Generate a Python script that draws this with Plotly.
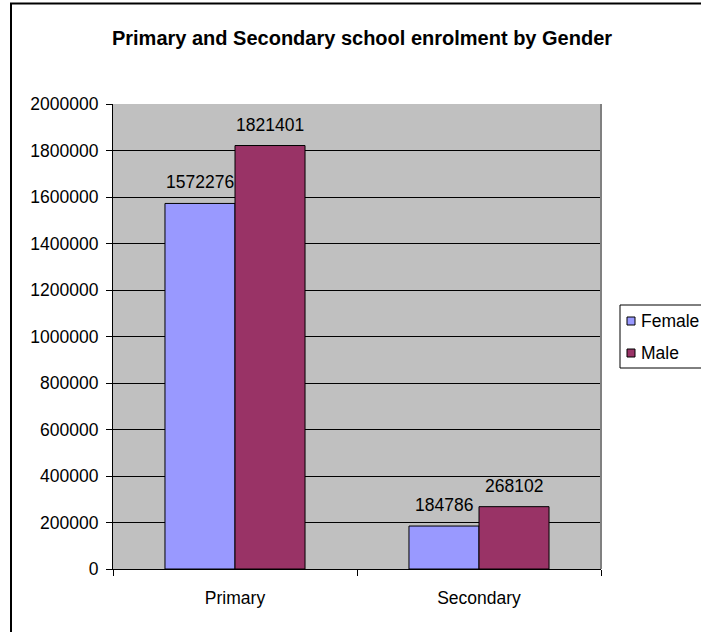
import plotly.graph_objects as go

categories = ["Primary", "Secondary"]
female = [1572276, 184786]
male = [1821401, 268102]
series_names = ["Female", "Male"]
series_colors = ["#9999FF", "#993366"]
y_ticks = [0, 200000, 400000, 600000, 800000, 1000000, 1200000, 1400000, 1600000, 1800000, 2000000]

FONT = "Arial, Liberation Sans, sans-serif"
W, H = 701, 632
L, R, T, B = 113, 601, 104, 569
pw, ph = R - L, B - T
BARGAP = 0.426

def px_x(p):
    return (p - L) / pw

def px_y(p):
    return (B - p) / ph

fig = go.Figure()
series = [female, male]
for name, vals, col in zip(series_names, series, series_colors):
    fig.add_trace(go.Bar(
        x=categories, y=vals, name=name,
        marker=dict(color=col, line=dict(color="black", width=1)),
        cliponaxis=False, showlegend=False,
    ))

# data labels centred above each bar
bar_w = pw / len(categories) * (1 - BARGAP) / len(series)
for si, vals in enumerate(series):
    off = (si - (len(series) - 1) / 2) * bar_w
    for c, v in zip(categories, vals):
        fig.add_annotation(x=c, y=v, text=str(v), showarrow=False,
                           xshift=off, yshift=21, yanchor="middle",
                           font=dict(family=FONT, size=17.5, color="black"))

fig.update_layout(
    width=W, height=H,
    margin=dict(l=L, r=W - R, t=T, b=H - B, autoexpand=False),
    paper_bgcolor="white", plot_bgcolor="#C0C0C0",
    barmode="group", bargap=BARGAP, bargroupgap=0,
    font=dict(family=FONT, size=17.5, color="black"),
    title=dict(text="<b>Primary and Secondary school enrolment by Gender</b>",
               x=px_x(362), xref="paper", xanchor="center",
               y=1 - 37.5 / H, yref="container", yanchor="middle",
               font=dict(family=FONT, size=20, color="black")),
    showlegend=False,
    xaxis=dict(showline=True, linecolor="black", linewidth=1,
               ticks="outside", tickson="boundaries", ticklen=6, tickcolor="black",
               showgrid=False, ticklabelstandoff=13),
    yaxis=dict(range=[0, 2000000], tickvals=y_ticks, ticktext=[str(v) for v in y_ticks],
               showline=True, linecolor="black", linewidth=1,
               ticks="outside", ticklen=6, tickcolor="black",
               showgrid=True, gridcolor="black", gridwidth=1,
               zeroline=False, ticklabelstandoff=4),
)

# plot area border (gray) on right
fig.add_shape(type="line", xref="paper", yref="paper", x0=1, x1=1, y0=0, y1=1,
              line=dict(color="#808080", width=2))
# outer chart frame
fig.add_shape(type="rect", xref="paper", yref="paper",
              x0=px_x(11), x1=px_x(720), y0=px_y(650), y1=px_y(3.5),
              line=dict(color="black", width=2), layer="above")

# legend box (Excel style)
leg_left, leg_top, leg_bottom = 620, 305, 368
fig.add_shape(type="rect", xref="paper", yref="paper",
              x0=px_x(leg_left), x1=px_x(730), y0=px_y(leg_bottom), y1=px_y(leg_top),
              line=dict(color="black", width=1), fillcolor="white", layer="above")
row_y = [321, 353]
for name, col, ry in zip(series_names, series_colors, row_y):
    fig.add_shape(type="rect", xref="paper", yref="paper",
                  x0=px_x(627), x1=px_x(635), y0=px_y(ry + 4), y1=px_y(ry - 4),
                  line=dict(color="black", width=1), fillcolor=col, layer="above")
    fig.add_annotation(xref="paper", yref="paper", x=px_x(639), y=px_y(ry),
                       xanchor="left", yanchor="middle", text=name, showarrow=False,
                       font=dict(family=FONT, size=17.5, color="black"))

fig.write_html("out.html")
